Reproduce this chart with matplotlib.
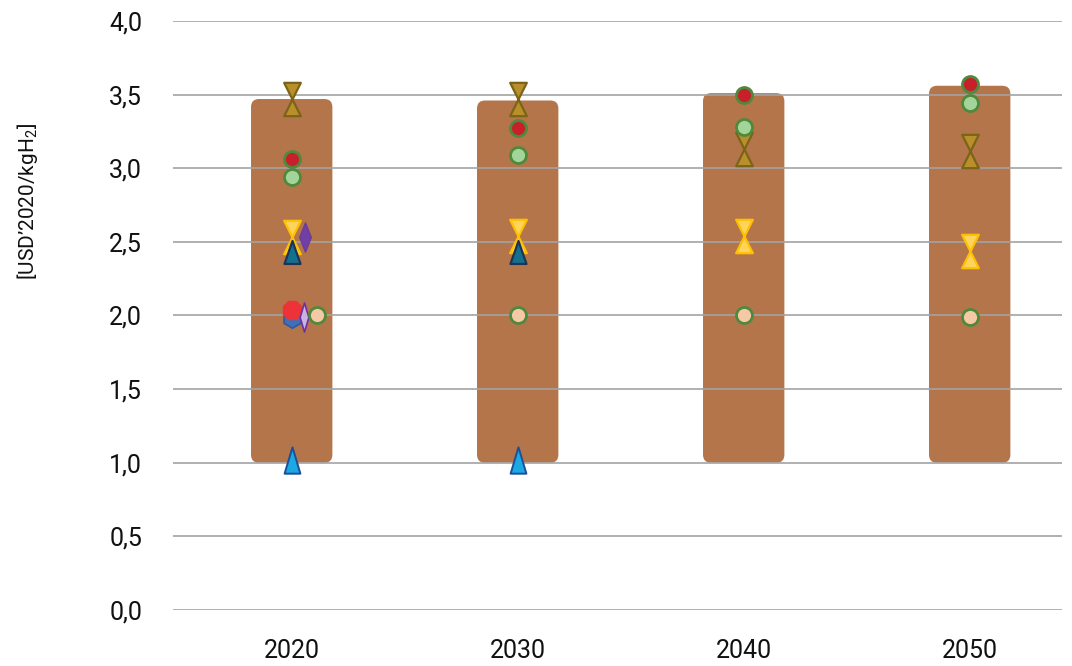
import numpy as np
import matplotlib
matplotlib.use("Agg")
import matplotlib.pyplot as plt
from matplotlib.path import Path
from matplotlib.patches import FancyBboxPatch
from matplotlib import font_manager

plt.rcParams["font.family"] = ["Roboto", "DejaVu Sans"]
plt.rcParams["mathtext.fontset"] = "custom"

nan = np.nan

# ---- data -------------------------------------------------------------
years = ["2020", "2030", "2040", "2050"]
range_low = [1.00, 1.00, 1.00, 1.00]
range_high = [3.47, 3.46, 3.51, 3.56]

olive_hourglass = [3.47, 3.47, 3.13, 3.12]
red_circle = [3.06, 3.27, 3.50, 3.57]
green_circle = [2.94, 3.09, 3.28, 3.44]
yellow_hourglass = [2.53, 2.54, 2.54, 2.44]
purple_diamond = [2.53, nan, nan, nan]
teal_triangle = [2.43, 2.43, nan, nan]
blue_hexagon = [1.98, nan, nan, nan]
red_octagon = [2.04, nan, nan, nan]
lavender_diamond = [1.99, nan, nan, nan]
peach_circle = [2.00, 2.00, 2.00, 1.99]
blue_triangle = [1.02, 1.02, nan, nan]

y_ticks = [0.0, 0.5, 1.0, 1.5, 2.0, 2.5, 3.0, 3.5, 4.0]

# narrow face for the axis title, if present
installed = {f.name for f in font_manager.fontManager.ttflist}
label_family = "Liberation Sans Narrow" if "Liberation Sans Narrow" in installed else "Roboto"
plt.rcParams["mathtext.rm"] = label_family
plt.rcParams["mathtext.it"] = label_family

# ---- custom marker shapes --------------------------------------------
hourglass = Path([(-0.5, 1), (0.5, 1), (0, 0), (0.5, -1), (-0.5, -1), (0, 0), (-0.5, 1)],
                 [Path.MOVETO] + [Path.LINETO] * 5 + [Path.CLOSEPOLY])


def tri(w):
    return Path([(-w, -1), (w, -1), (0, 1), (-w, -1)],
                [Path.MOVETO, Path.LINETO, Path.LINETO, Path.CLOSEPOLY])


def slim_diamond(w):
    return Path([(0, 1), (w, 0), (0, -1), (-w, 0), (0, 1)],
                [Path.MOVETO, Path.LINETO, Path.LINETO, Path.LINETO, Path.CLOSEPOLY])


# ---- figure -------------------------------------------------------------
fig = plt.figure(figsize=(10.72, 6.66), dpi=100)
ax = fig.add_axes([0.161, 0.0841, 0.830, 0.8844])

x = np.arange(len(years))
ax.set_xlim(-0.527, 3.41)
ax.set_ylim(0, 4.0)

# rounded range bars
bar_w = 0.36
px_x = 0.830 * 1072 / (3.41 + 0.527)
px_y = 0.8844 * 666 / 4.0
for xi, lo, hi in zip(x, range_low, range_high):
    ax.add_patch(FancyBboxPatch((xi - bar_w / 2, lo), bar_w, hi - lo,
                                boxstyle="round,pad=0,rounding_size=%f" % (8 / px_x),
                                mutation_aspect=px_x / px_y,
                                facecolor="#B5754A", edgecolor="none", zorder=1))

# grid on top of bars
for t in y_ticks:
    ax.axhline(t, color="#A3A3A3", lw=1.2, zorder=2)

dx = 1 / px_x  # one pixel in x data units


def plot_series(vals, offset_px=0, **kw):
    ax.plot(x + np.asarray(offset_px) * dx, vals, ls="none", zorder=3, **kw)


green_edge = "#4F8A3C"
plot_series(olive_hourglass, marker=hourglass, ms=24, mfc="#B88F2A", mec="#7A6419", mew=1.6)
plot_series(yellow_hourglass, marker=hourglass, ms=24, mfc="#FFD45C", mec="#FFC000", mew=1.6)
plot_series(purple_diamond, offset_px=[13, 0, 0, 0], marker=slim_diamond(0.4), ms=21,
            mfc="#7140A4", mec="#6A3D9A", mew=1.0)
plot_series(teal_triangle, marker=tri(0.7), ms=16.5, mfc="#14708F", mec="#1F3352", mew=1.6)
plot_series(blue_hexagon, marker="h", ms=14, mfc="#3F6FB8", mec="#2F5A9E", mew=1.2)
plot_series(red_octagon, marker="8", ms=13.5, mfc="#EE3338", mec="#EE3338", mew=1.0)
plot_series(lavender_diamond, offset_px=[12, 0, 0, 0], marker=slim_diamond(0.3), ms=21,
            mfc="#C9B3E2", mec="#7030A0", mew=1.2)
plot_series(peach_circle, offset_px=[25, 0, 0, 0], marker="o", ms=11.5, mfc="#F6C9A6",
            mec=green_edge, mew=2.0)
plot_series(green_circle, marker="o", ms=11.5, mfc="#A3D59A", mec=green_edge, mew=2.0)
plot_series(red_circle, marker="o", ms=11.5, mfc="#C8202B", mec=green_edge, mew=2.0)
plot_series(blue_triangle, marker=tri(0.6), ms=19, mfc="#1AA9E2", mec="#1F4E99", mew=1.4)

# axes styling
for s in ax.spines.values():
    s.set_visible(False)
ax.set_yticks(y_ticks)
ax.set_yticklabels([f"{t:.1f}".replace(".", ",") for t in y_ticks])
ax.set_xticks(x)
ax.set_xticklabels(years)
ax.tick_params(axis="both", length=0, labelsize=18, colors="#111111")
ax.tick_params(axis="y", pad=22)
ax.tick_params(axis="x", pad=21)

fig.text(0.026, 0.698, "[USD’2020/kgH$_2$]", rotation=90, ha="center", va="center",
         fontsize=17 if label_family != "Roboto" else 15, color="#111111",
         family=label_family)

fig.savefig("out.png", dpi=100)
